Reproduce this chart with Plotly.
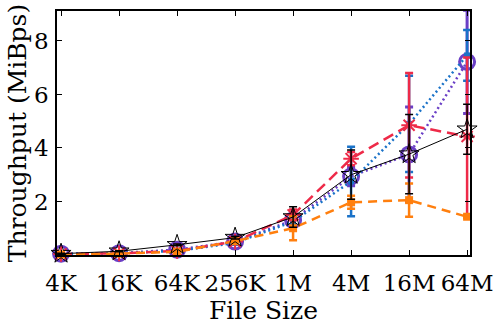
import plotly.graph_objects as go

# File sizes on the x axis
sizes = ["4K", "16K", "64K", "256K", "1M", "4M", "16M", "64M"]

# Throughput (MiBps) per configuration and their error margins
purple_vals = [0.05, 0.07, 0.20, 0.50, 1.30, 2.94, 3.76, 7.22]
purple_err = [0.01, 0.01, 0.02, 0.05, 0.20, 0.35, 1.77, 1.93]

blue_vals = [0.04, 0.07, 0.15, 0.45, 1.25, 2.75, 4.90, 7.46]
blue_err = [0.01, 0.01, 0.02, 0.05, 0.20, 1.30, 1.80, 0.95]

red_vals = [0.04, 0.06, 0.15, 0.50, 1.50, 3.60, 4.85, 4.43]
red_err = [0.01, 0.01, 0.02, 0.05, 0.20, 0.25, 1.95, 2.95]

orange_vals = [0.02, 0.05, 0.12, 0.52, 1.00, 1.97, 2.05, 1.43]
orange_err = [0.01, 0.01, 0.02, 0.05, 0.45, 0.24, 0.62, 0.05]

black_vals = [0.05, 0.14, 0.38, 0.65, 1.42, 3.00, 3.77, 4.70]
black_err = [0.02, 0.02, 0.03, 0.05, 0.38, 0.92, 1.48, 0.93]

y_ticks = [2, 4, 6, 8]

PURPLE = "#6A3FC6"
BLUE = "#1A72C8"
RED = "#EE2A48"
ORANGE = "#FF7F0E"
BLACK = "#000000"

FONT = "DejaVu Serif"

fig = go.Figure()


def add_series(vals, err, color, dash, width, symbol, msize, mline, err_thick):
    fig.add_trace(go.Scatter(
        x=sizes, y=vals,
        mode="lines+markers",
        line=dict(color=color, dash=dash, width=width),
        marker=dict(symbol=symbol, size=msize, color=color,
                    line=dict(color=color, width=mline)),
        error_y=dict(type="data", array=err, visible=True,
                     color=color, thickness=err_thick, width=4),
        cliponaxis=False,
        showlegend=False,
    ))


add_series(purple_vals, purple_err, PURPLE, "2px,3px", 2.5, "circle-open", 15, 3, 3)
add_series(blue_vals, blue_err, BLUE, "2px,3px", 2.5, "square", 6, 0, 2.5)
add_series(red_vals, red_err, RED, "11px,6px", 2.5, "asterisk-open", 13, 2, 2.5)
add_series(orange_vals, orange_err, ORANGE, "9px,6px", 2.5, "square", 8, 0, 2.5)
add_series(black_vals, black_err, BLACK, "solid", 1, "star-open", 15, 1, 1.5)

axis_common = dict(
    showline=True, linecolor="black", linewidth=1.5, mirror="ticks",
    ticks="inside", ticklen=5, tickwidth=1, tickcolor="black",
    showgrid=False, zeroline=False,
    tickfont=dict(family=FONT, size=23, color="black"),
)

fig.update_xaxes(
    type="category", range=[-0.07, 7.05], ticklabelstandoff=7,
    title=dict(text="File Size", font=dict(family=FONT, size=25, color="black"), standoff=6),
    **axis_common,
)
fig.update_yaxes(
    range=[0, 9.12], tickvals=y_ticks, ticklabelstandoff=2,
    title=dict(text="Throughput (MiBps)", font=dict(family=FONT, size=25, color="black"), standoff=0),
    **axis_common,
)

fig.update_layout(
    width=502, height=329,
    margin=dict(l=57, r=24, t=9, b=72),
    plot_bgcolor="white", paper_bgcolor="white",
    font=dict(family=FONT),
)

fig.write_html("out.html")
